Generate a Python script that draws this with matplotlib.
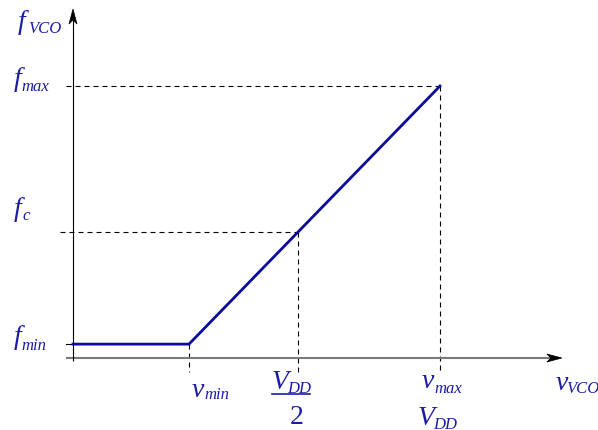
import matplotlib
matplotlib.use("Agg")
import matplotlib.pyplot as plt
import matplotlib.transforms as mtransforms
from matplotlib.patches import Polygon
from matplotlib.lines import Line2D
import numpy as np

plt.rcParams["font.family"] = ["Liberation Serif", "DejaVu Sans"]

# VCO transfer characteristic, normalised so that v_max = 1 and f_max = 1
v_min = 0.316
v_max = 1.0
v_center = 0.614          # V_DD / 2
f_min = 0.051
f_max = 1.0
v_curve = [0.0, v_min, v_max]
f_curve = [f_min, f_min, f_max]
f_center = float(np.interp(v_center, v_curve[1:], f_curve[1:]))

# label text: (symbol, subscript)
y_labels = [("f", "max"), ("f", "c"), ("f", "min")]
x_labels = [("v", "min"), ("V", "DD"), ("v", "max"), ("V", "DD")]
x_name = ("v", "VCO")
y_name = ("f", "VCO")

BLUE = "#0b0b9a"
TEXT = "#1c1ca6"
W, H = 598, 431
MAIN, SUB = 20, 12

fig = plt.figure(figsize=(W / 100, H / 100), dpi=100)
ax = fig.add_axes([0, 0, 1, 1])
ax.set_xlim(-0.1989, 1.4305)
ax.set_ylim(-0.2647, 1.3199)
ax.axis("off")

x_tip = 1.332
y_tip = 1.283

# axes
ax.plot([-0.019, x_tip - 0.02], [0, 0], color="#7a7a7a", lw=1.5, solid_capstyle="butt", zorder=2)
ax.plot([0, 0], [-0.011, y_tip - 0.02], color="black", lw=0.8, solid_capstyle="butt", zorder=2)


def arrow_head(x, y, angle):
    base = np.array([[0, 0], [-15, 4.0], [-11, 0], [-15, -4.0]], dtype=float)
    rot = mtransforms.Affine2D().rotate_deg(angle)
    tip = ax.transData.transform((x, y))
    tr = rot + mtransforms.Affine2D().translate(*tip)
    ax.add_patch(Polygon(tr.transform(base), closed=True, transform=None,
                         facecolor="black", edgecolor="black", lw=0.5, zorder=3))


arrow_head(x_tip, 0, 0)
arrow_head(0, y_tip, 90)

# guide lines
dash = dict(color="black", lw=0.8, dashes=(4.5, 3.6), zorder=1)
ax.plot([-0.019, v_max], [f_max, f_max], **dash)
ax.plot([v_max, v_max], [f_max, -0.051], **dash)
ax.plot([-0.035, v_center], [f_center, f_center], **dash)
ax.plot([v_center, v_center], [f_center, -0.062], **dash)
ax.plot([v_min, v_min], [f_min, -0.051], **dash)
ax.plot([-0.019, 0], [f_min, f_min], color="black", lw=0.8, zorder=1)

# characteristic
ax.plot(v_curve, f_curve, color=BLUE, lw=2.0, solid_joinstyle="miter", zorder=4)


def put(text, anchor, x_left, y_base, size, style="italic"):
    """Place text with its left edge / baseline at the given pixel position
    (measured from the top-left corner), attached to a data anchor."""
    axp, ayp = ax.transData.transform(anchor)
    ax.annotate(text, xy=anchor, xytext=(x_left - axp, (H - y_base) - ayp),
                textcoords="offset pixels", ha="left", va="baseline",
                fontsize=size, fontstyle=style, color=TEXT)


def symbol(label, anchor, main_pos, sub_pos):
    put(label[0], anchor, *main_pos, MAIN)
    put(label[1], anchor, *sub_pos, SUB)


# frequency labels
symbol(y_name, (0, y_tip), (18, 29), (28, 33))
symbol(y_labels[0], (0, f_max), (14, 86), (21, 91))
symbol(y_labels[1], (0, f_center), (14, 216), (22, 220))
symbol(y_labels[2], (0, f_min), (14, 344), (21, 350))

# voltage labels
symbol(x_labels[0], (v_min, 0), (192, 397), (204, 399))
symbol(x_labels[1], (v_center, 0), (272, 389), (287, 393))
symbol(x_labels[2], (v_max, 0), (422, 388), (434, 393))
symbol(x_labels[3], (v_max, 0), (418, 425), (433, 429))
symbol(x_name, (x_tip, 0), (556, 390), (566, 393))

# V_DD / 2 fraction bar and denominator
ax.add_line(Line2D([272, 310], [H - 395, H - 395], transform=None, color=TEXT, lw=1.2))
put("2", (v_center, 0), 290, 424, MAIN, style="normal")

fig.savefig("out.png", dpi=100)
